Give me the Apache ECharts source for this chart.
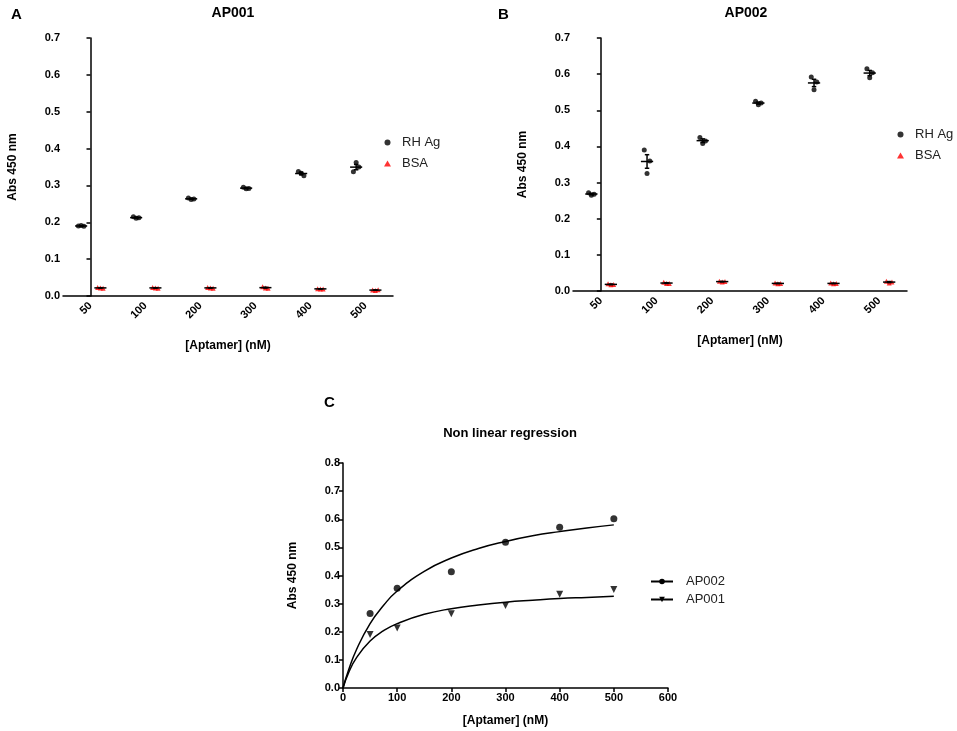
<!DOCTYPE html>
<html>
<head>
<meta charset="utf-8">
<title>aptamer binding</title>
<script src="https://cdn.jsdelivr.net/npm/echarts@6/dist/echarts.min.js"></script>
<style>
  html, body { margin: 0; padding: 0; background: #fff; }
  #main { width: 957px; height: 731px; }
</style>
</head>
<body>
<div id="main"></div>
<script>
// concentrations (category labels for A and B)
var cats = ['50', '100', '200', '300', '400', '500'];

// triplicate readings, Abs 450 nm
var ap001Rh  = [[0.190, 0.191, 0.189], [0.215, 0.211, 0.212], [0.266, 0.262, 0.263],
                [0.295, 0.291, 0.292], [0.338, 0.333, 0.326], [0.337, 0.362, 0.350]];
var ap001Bsa = [[0.023, 0.022, 0.021], [0.023, 0.022, 0.021], [0.023, 0.022, 0.021],
                [0.025, 0.022, 0.021], [0.020, 0.019, 0.019], [0.016, 0.015, 0.017]];
var ap002Rh  = [[0.272, 0.265, 0.268], [0.390, 0.325, 0.360], [0.425, 0.408, 0.415],
                [0.525, 0.515, 0.520], [0.592, 0.557, 0.578], [0.615, 0.590, 0.604]];
var ap002Bsa = [[0.020, 0.017, 0.018], [0.024, 0.021, 0.021], [0.027, 0.025, 0.026],
                [0.022, 0.020, 0.021], [0.022, 0.020, 0.021], [0.027, 0.022, 0.025]];

// panel C: mean points and fitted curves
var concC   = [50, 100, 200, 300, 400, 500];
var meanAP002 = [0.265, 0.355, 0.413, 0.518, 0.572, 0.602];
var meanAP001 = [0.190, 0.213, 0.264, 0.293, 0.333, 0.350];
var fitX     = [0, 10, 25, 50, 75, 100, 150, 200, 250, 300, 350, 400, 450, 500];
var fitAP002 = [0, 0.062, 0.137, 0.229, 0.294, 0.345, 0.415, 0.462, 0.496, 0.521, 0.541, 0.556, 0.569, 0.580];
var fitAP001 = [0, 0.053, 0.108, 0.167, 0.204, 0.229, 0.262, 0.282, 0.295, 0.305, 0.312, 0.318, 0.322, 0.326];

var FONT = 'Liberation Sans, Arial, sans-serif';
var RH_OFF = -0.17, BSA_OFF = 0.18, JIT = [-0.05, 0, 0.05];

function points(reps, off) {
    var out = [];
    reps.forEach(function (r, i) {
        r.forEach(function (v, j) { out.push([i + off + JIT[j], v]); });
    });
    return out;
}
function stats(reps, off) {
    return reps.map(function (r, i) {
        var m = (r[0] + r[1] + r[2]) / 3;
        var sd = Math.sqrt(r.reduce(function (s, v) { return s + (v - m) * (v - m); }, 0) / 2);
        var se = sd / Math.sqrt(3);
        return [i + off, m, m - se, m + se];
    });
}
function errRender(params, api) {
    var x = api.value(0), m = api.value(1), lo = api.value(2), hi = api.value(3);
    var a = api.coord([x - 0.11, m]), b = api.coord([x + 0.11, m]);
    var t = api.coord([x, hi]), u = api.coord([x, lo]);
    var c1 = api.coord([x - 0.04, hi]), c2 = api.coord([x + 0.04, hi]);
    var c3 = api.coord([x - 0.04, lo]), c4 = api.coord([x + 0.04, lo]);
    var st = { stroke: '#000', lineWidth: 1.5 };
    return { type: 'group', children: [
        { type: 'line', shape: { x1: a[0], y1: a[1], x2: b[0], y2: b[1] }, style: st },
        { type: 'line', shape: { x1: t[0], y1: t[1], x2: u[0], y2: u[1] }, style: st },
        { type: 'line', shape: { x1: c1[0], y1: c1[1], x2: c2[0], y2: c2[1] }, style: st },
        { type: 'line', shape: { x1: c3[0], y1: c3[1], x2: c4[0], y2: c4[1] }, style: st }
    ]};
}

var axLine = { lineStyle: { color: '#000', width: 1.5 } };
var axTick = { length: 4, lineStyle: { color: '#000', width: 1.5 } };
var tickLbl = { color: '#000', fontSize: 11, fontWeight: 'bold', fontFamily: FONT };
var nameStyle = { color: '#000', fontSize: 12, fontWeight: 'bold', fontFamily: FONT };

function yAx(g, max) {
    return { gridIndex: g, type: 'value', min: 0, max: max, interval: 0.1,
        name: 'Abs 450 nm', nameLocation: 'middle', nameGap: 44, nameRotate: 90, nameTextStyle: nameStyle,
        axisLine: Object.assign({ show: true }, axLine), axisTick: Object.assign({ show: true }, axTick),
        splitLine: { show: false }, axisLabel: Object.assign({ margin: 3, formatter: function (v) { return v.toFixed(1); } }, tickLbl) };
}
function catAx(g) {
    return { gridIndex: g, type: 'category', data: cats,
        name: '[Aptamer] (nM)', nameLocation: 'middle', nameGap: 44, nameTextStyle: nameStyle,
        axisLine: axLine, axisTick: Object.assign({ alignWithLabel: true }, axTick),
        axisLabel: Object.assign({ rotate: 45, margin: 8 }, tickLbl) };
}
function hidAx(g) {
    return { gridIndex: g, type: 'value', min: -0.5, max: 5.5, show: false };
}

var chart = echarts.init(document.getElementById('main'));
var option = {
    backgroundColor: '#fff',
    animation: false,
    title: [
        { text: 'A', left: 6, top: 2, textStyle: { fontSize: 15, fontWeight: 'bold', fontFamily: FONT, color: '#000' } },
        { text: 'AP001', left: 228, top: 1, textAlign: 'center', textStyle: { fontSize: 14, fontWeight: 'bold', fontFamily: FONT, color: '#000' } },
        { text: 'B', left: 493, top: 2, textStyle: { fontSize: 15, fontWeight: 'bold', fontFamily: FONT, color: '#000' } },
        { text: 'AP002', left: 741, top: 1, textAlign: 'center', textStyle: { fontSize: 14, fontWeight: 'bold', fontFamily: FONT, color: '#000' } },
        { text: 'C', left: 319, top: 390, textStyle: { fontSize: 15, fontWeight: 'bold', fontFamily: FONT, color: '#000' } },
        { text: 'Non linear regression', left: 505, top: 422, textAlign: 'center', textStyle: { fontSize: 13, fontWeight: 'bold', fontFamily: FONT, color: '#000' } }
    ],
    legend: [
        { data: ['RH Ag', 'BSA'], orient: 'vertical', left: 379, top: 131, itemGap: 8, itemWidth: 7, itemHeight: 6,
          textStyle: { fontSize: 13, fontFamily: FONT, color: '#222', padding: [0, 0, 0, 6] } },
        { data: ['RH Ag', 'BSA'], orient: 'vertical', left: 892, top: 123, itemGap: 8, itemWidth: 7, itemHeight: 6,
          textStyle: { fontSize: 13, fontFamily: FONT, color: '#222', padding: [0, 0, 0, 6] } },
        { data: ['AP002', 'AP001'], orient: 'vertical', left: 645, top: 570, itemGap: 5, itemWidth: 22, itemHeight: 7,
          textStyle: { fontSize: 13, fontFamily: FONT, color: '#222', padding: [0, 0, 0, 8] } }
    ],
    grid: [
        { left: 63, right: 564, top: 38, bottom: 435 },
        { left: 573, right: 50, top: 38, bottom: 440 },
        { left: 343, right: 289, top: 463, bottom: 43 }
    ],
    xAxis: [
        catAx(0), hidAx(0), catAx(1), hidAx(1),
        { gridIndex: 2, type: 'value', min: 0, max: 600, interval: 100,
          name: '[Aptamer] (nM)', nameLocation: 'middle', nameGap: 27, nameTextStyle: nameStyle,
          axisLine: axLine, axisTick: axTick, splitLine: { show: false },
          axisLabel: Object.assign({ margin: 4 }, tickLbl) }
    ],
    yAxis: [yAx(0, 0.7), yAx(1, 0.7), yAx(2, 0.8)],
    series: [
        { name: 'RH Ag', type: 'scatter', xAxisIndex: 1, yAxisIndex: 0, symbol: 'circle', symbolSize: 5,
          itemStyle: { color: '#000' }, data: points(ap001Rh, RH_OFF) },
        { name: 'BSA', type: 'scatter', xAxisIndex: 1, yAxisIndex: 0, symbol: 'triangle', symbolSize: 5,
          itemStyle: { color: '#f00' }, data: points(ap001Bsa, BSA_OFF) },
        { type: 'custom', xAxisIndex: 1, yAxisIndex: 0, renderItem: errRender, data: stats(ap001Rh, RH_OFF), z: 3 },
        { type: 'custom', xAxisIndex: 1, yAxisIndex: 0, renderItem: errRender, data: stats(ap001Bsa, BSA_OFF), z: 3 },

        { name: 'RH Ag', type: 'scatter', xAxisIndex: 3, yAxisIndex: 1, symbol: 'circle', symbolSize: 5,
          itemStyle: { color: '#000' }, data: points(ap002Rh, RH_OFF) },
        { name: 'BSA', type: 'scatter', xAxisIndex: 3, yAxisIndex: 1, symbol: 'triangle', symbolSize: 5,
          itemStyle: { color: '#f00' }, data: points(ap002Bsa, BSA_OFF) },
        { type: 'custom', xAxisIndex: 3, yAxisIndex: 1, renderItem: errRender, data: stats(ap002Rh, RH_OFF), z: 3 },
        { type: 'custom', xAxisIndex: 3, yAxisIndex: 1, renderItem: errRender, data: stats(ap002Bsa, BSA_OFF), z: 3 },

        { name: 'AP002', type: 'line', xAxisIndex: 4, yAxisIndex: 2, smooth: true, symbol: 'circle', symbolSize: 7,
          showSymbol: false, lineStyle: { color: '#000', width: 1.5 }, itemStyle: { color: '#000' },
          data: fitX.map(function (x, i) { return [x, fitAP002[i]]; }) },
        { name: 'AP001', type: 'line', xAxisIndex: 4, yAxisIndex: 2, smooth: true, symbol: 'triangle', symbolRotate: 180, symbolSize: 7,
          showSymbol: false, lineStyle: { color: '#000', width: 1.5 }, itemStyle: { color: '#000' },
          data: fitX.map(function (x, i) { return [x, fitAP001[i]]; }) },
        { type: 'scatter', xAxisIndex: 4, yAxisIndex: 2, symbol: 'circle', symbolSize: 7, itemStyle: { color: '#000' },
          data: concC.map(function (x, i) { return [x, meanAP002[i]]; }) },
        { type: 'scatter', xAxisIndex: 4, yAxisIndex: 2, symbol: 'triangle', symbolRotate: 180, symbolSize: 7, itemStyle: { color: '#000' },
          data: concC.map(function (x, i) { return [x, meanAP001[i]]; }) }
    ]
};
chart.setOption(option);
</script>
</body>
</html>
